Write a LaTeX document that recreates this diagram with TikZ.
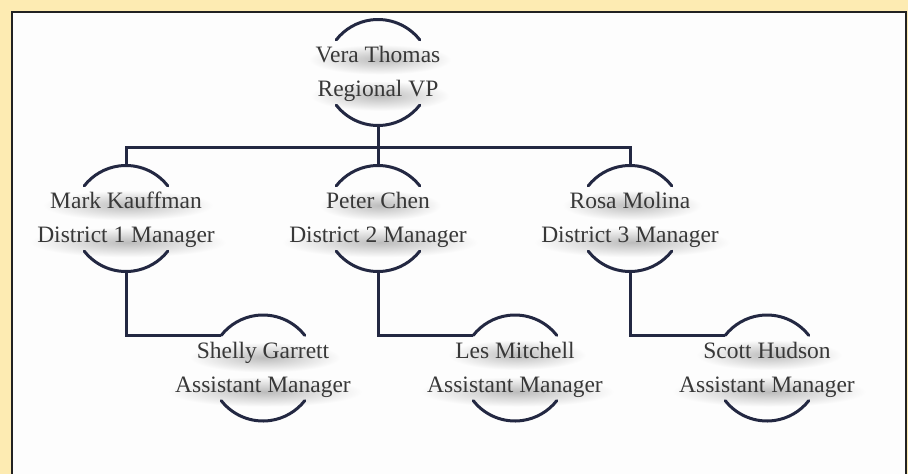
\documentclass[tikz,border=0pt]{standalone}
\usepackage{fontspec}
\setmainfont{Liberation Serif}
\usetikzlibrary{calc}

\definecolor{pagebg}{HTML}{FDEBB2}
\definecolor{panelbg}{HTML}{FDFDFD}
\definecolor{panelrule}{HTML}{222222}
\definecolor{linkcol}{HTML}{232842}
\definecolor{namecol}{HTML}{383838}
\definecolor{hazecol}{HTML}{BCBCBC}

\tikzset{
  conn/.style={draw=linkcol, line width=3pt},
  arcline/.style={draw=linkcol, line width=3pt, line cap=round},
  nametext/.style={text=namecol, inner sep=0pt, anchor=base,
    font=\fontsize{23.5}{28}\selectfont},
}

% soft grey haze under one line of text
\newcommand\haze[1]{%
  \shade[inner color=hazecol, outer color=panelbg]
    let \p1=($(#1.east)-(#1.west)$) in
    ($(#1.center)+(2,-5)$) ellipse [x radius={0.5*\x1+9pt}, y radius=15pt];
}

% one chart entry: a name and a title between two arcs of a circle
\newcommand\orgentry[4]{%
  \coordinate (#1) at #2;
  \path (#1) ++(0,10) node[nametext, opacity=0] (#1-name) {#3};
  \path (#1) ++(0,-24) node[nametext, opacity=0] (#1-title) {#4};
  \haze{#1-name}
  \haze{#1-title}
  \path (#1) ++(0,10) node[nametext] {#3};
  \path (#1) ++(0,-24) node[nametext] {#4};
  \draw[arcline] ($(#1)+(38:53)$) coordinate (#1-tr)
      arc[start angle=38, end angle=142, radius=53] coordinate (#1-tl);
  \draw[arcline] ($(#1)+(218:53)$) coordinate (#1-bl)
      arc[start angle=218, end angle=322, radius=53] coordinate (#1-br);
  \coordinate (#1-top) at ($(#1)+(0,53)$);
  \coordinate (#1-bot) at ($(#1)+(0,-53)$);
}

\begin{document}
\begin{tikzpicture}[x=1pt, y=1pt]
  % page and panel
  \fill[pagebg] (0,0) rectangle (908,-474);
  \useasboundingbox (0,0) rectangle (908,-474);
  \begin{scope}
    \clip (0,0) rectangle (908,-474);
    \draw[draw=panelrule, fill=panelbg, line width=2.6pt] (12,-12) rectangle (906,-500);
  \end{scope}

  % entries
  \orgentry{vera}{(378,-72.5)}{Vera Thomas}{Regional VP}
  \orgentry{mark}{(126,-218.5)}{Mark Kauffman}{District 1 Manager}
  \orgentry{peter}{(378,-218.5)}{Peter Chen}{District 2 Manager}
  \orgentry{rosa}{(630,-218.5)}{Rosa Molina}{District 3 Manager}
  \orgentry{shelly}{(263,-368)}{Shelly Garrett}{Assistant Manager}
  \orgentry{les}{(515,-368)}{Les Mitchell}{Assistant Manager}
  \orgentry{scott}{(767,-368)}{Scott Hudson}{Assistant Manager}

  % reporting lines
  \coordinate (bus) at (378,-147);
  \draw[conn] (vera-bot) -- (peter-top);
  \draw[conn] (mark-top) |- (bus) -| (rosa-top);
  \draw[conn] (mark-bot) |- (shelly-tl);
  \draw[conn] (peter-bot) |- (les-tl);
  \draw[conn] (rosa-bot) |- (scott-tl);
\end{tikzpicture}
\end{document}
